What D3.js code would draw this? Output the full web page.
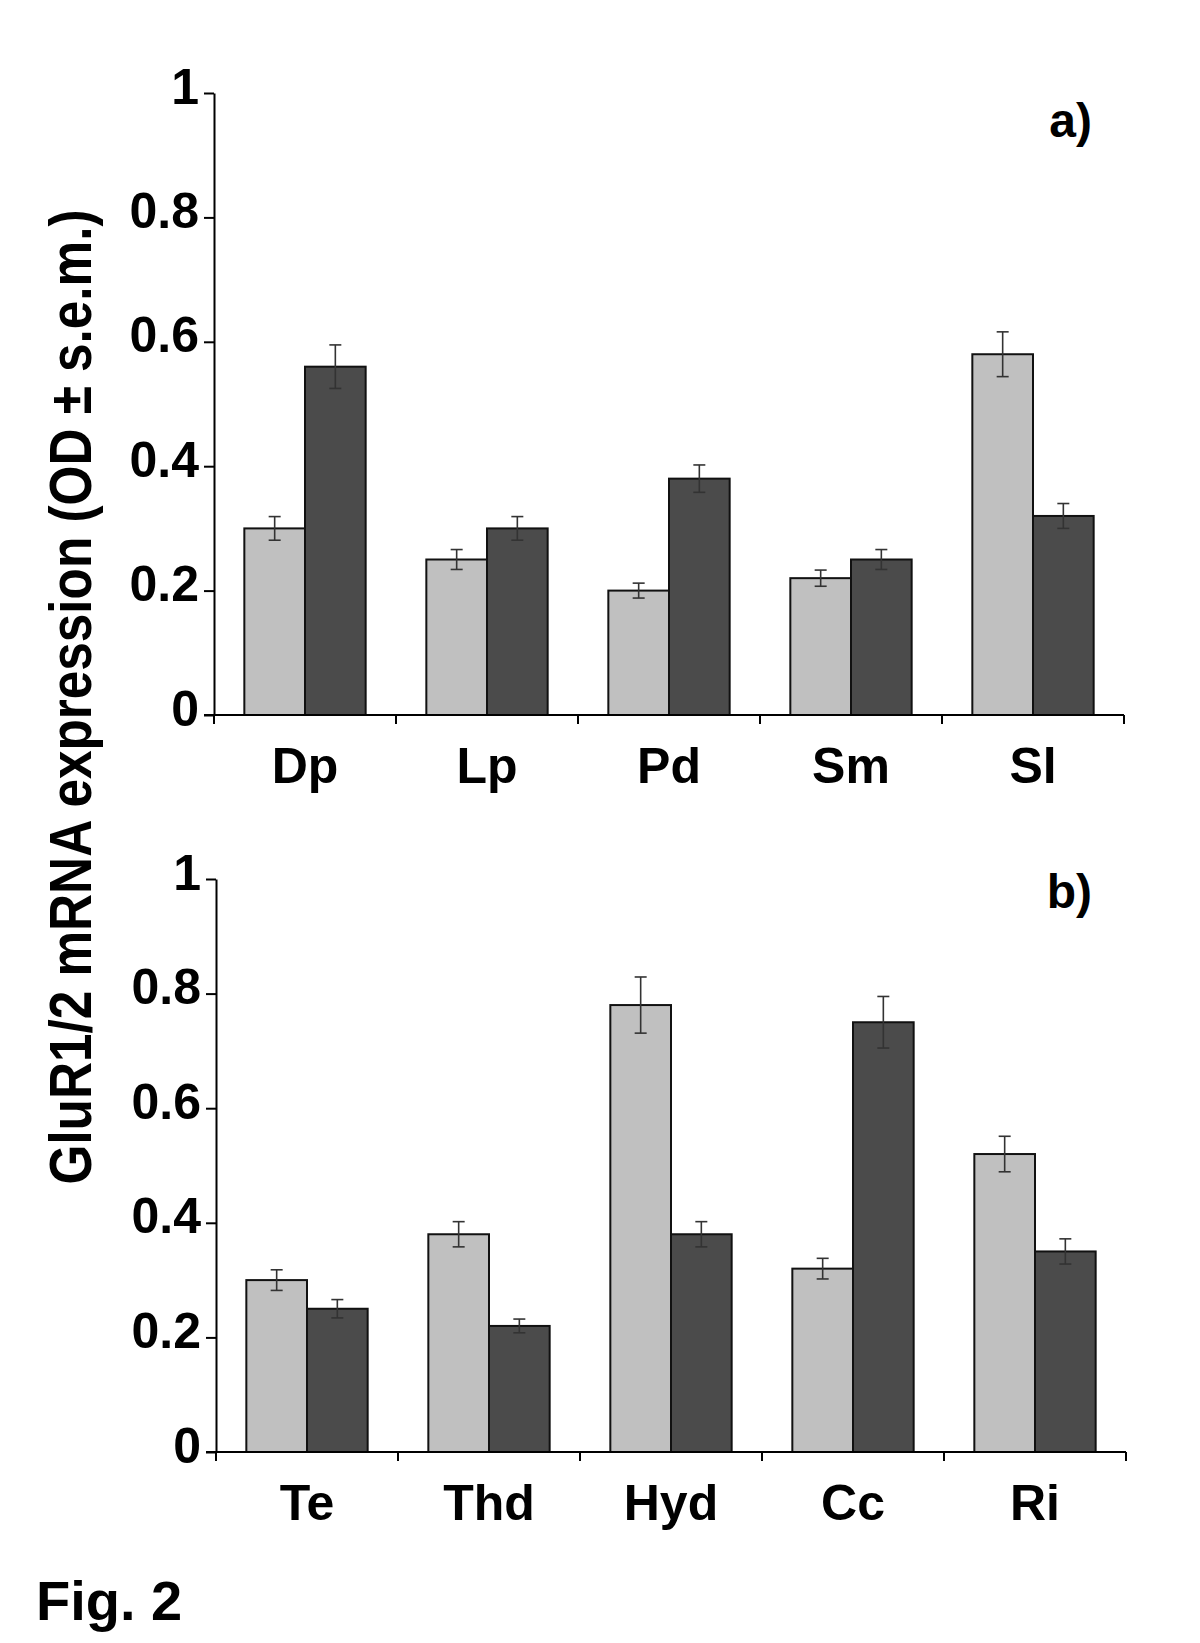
<!DOCTYPE html>
<html>
<head>
<meta charset="utf-8">
<script src="https://cdn.jsdelivr.net/npm/d3@7"></script>
<style>
  html, body { margin: 0; padding: 0; background: #fff; }
  svg { display: block; }
  text { font-family: "Liberation Sans", Arial, sans-serif; font-weight: bold; fill: #000; }
</style>
</head>
<body>
<svg id="chart" width="1200" height="1643"></svg>
<script>
// ---- data ----
const categoriesA = ["Dp", "Lp", "Pd", "Sm", "Sl"];
const lightA = [0.30, 0.25, 0.20, 0.22, 0.58];
const lightErrA = [0.019, 0.016, 0.012, 0.013, 0.036];
const darkA = [0.56, 0.30, 0.38, 0.25, 0.32];
const darkErrA = [0.035, 0.019, 0.022, 0.016, 0.020];

const categoriesB = ["Te", "Thd", "Hyd", "Cc", "Ri"];
const lightB = [0.30, 0.38, 0.78, 0.32, 0.52];
const lightErrB = [0.018, 0.022, 0.049, 0.018, 0.031];
const darkB = [0.25, 0.22, 0.38, 0.75, 0.35];
const darkErrB = [0.016, 0.012, 0.022, 0.045, 0.022];

const yTicks = [0, 0.2, 0.4, 0.6, 0.8, 1];
const yTickLabels = ["0", "0.2", "0.4", "0.6", "0.8", "1"];
const seriesKeys = ["light", "dark"];
const seriesColors = ["#c0c0c0", "#4b4b4b"];
const yLabel = "GluR1/2 mRNA expression (OD \u00B1 s.e.m.)";
const figLabel = "Fig. 2";

const svg = d3.select("#chart");

function panel(cfg) {
  const x = d3.scaleBand().domain(cfg.categories).range([cfg.x0, cfg.x1]).paddingInner(0).paddingOuter(0);
  const xs = d3.scaleBand().domain(seriesKeys).range([x.bandwidth() / 6, x.bandwidth() * 5 / 6]).padding(0);
  const y = d3.scaleLinear().domain([0, 1]).range([cfg.yBottom, cfg.yTop]);
  const color = d3.scaleOrdinal().domain(seriesKeys).range(seriesColors);

  const g = svg.append("g");

  const rows = cfg.categories.map((c, i) => ({
    cat: c,
    vals: [
      { key: "light", v: cfg.light[i], e: cfg.lightErr[i] },
      { key: "dark", v: cfg.dark[i], e: cfg.darkErr[i] }
    ]
  }));

  const grp = g.selectAll("g.grp").data(rows).join("g")
    .attr("class", "grp")
    .attr("transform", d => `translate(${x(d.cat)},0)`);

  grp.selectAll("rect").data(d => d.vals).join("rect")
    .attr("x", d => xs(d.key))
    .attr("y", d => y(d.v))
    .attr("width", xs.bandwidth())
    .attr("height", d => y(0) - y(d.v))
    .attr("fill", d => color(d.key))
    .attr("stroke", "#111")
    .attr("stroke-width", 2);

  // error bars
  const eb = grp.selectAll("g.eb").data(d => d.vals).join("g").attr("class", "eb");
  eb.append("line")
    .attr("x1", d => xs(d.key) + xs.bandwidth() / 2)
    .attr("x2", d => xs(d.key) + xs.bandwidth() / 2)
    .attr("y1", d => y(d.v + d.e))
    .attr("y2", d => y(d.v - d.e))
    .attr("stroke", "#333").attr("stroke-width", 1.6);
  eb.selectAll("line.cap").data(d => [d.v + d.e, d.v - d.e].map(t => ({ t, d }))).join("line")
    .attr("class", "cap")
    .attr("x1", o => xs(o.d.key) + xs.bandwidth() / 2 - 6)
    .attr("x2", o => xs(o.d.key) + xs.bandwidth() / 2 + 6)
    .attr("y1", o => y(o.t))
    .attr("y2", o => y(o.t))
    .attr("stroke", "#333").attr("stroke-width", 1.6);

  // y axis
  const yAxis = d3.axisLeft(y).tickValues(yTicks)
    .tickFormat((d, i) => yTickLabels[i])
    .tickSize(10).tickSizeOuter(0).tickPadding(5);
  const ya = g.append("g").attr("transform", `translate(${cfg.x0},0)`).call(yAxis);
  ya.select(".domain").attr("stroke", "#000").attr("stroke-width", 2);
  ya.selectAll(".tick line").attr("stroke", "#000").attr("stroke-width", 2);
  ya.selectAll(".tick text")
    .attr("font-family", "Liberation Sans, Arial, sans-serif")
    .attr("font-weight", "bold")
    .attr("font-size", 50)
    .attr("fill", "#000")
    .attr("dy", "0.2em");

  // x axis baseline (extends to the left tick length)
  g.append("line")
    .attr("x1", cfg.x0 - 10).attr("x2", cfg.x1)
    .attr("y1", y(0)).attr("y2", y(0))
    .attr("stroke", "#000").attr("stroke-width", 2);
  // boundary ticks
  const bounds = cfg.categories.map(c => x(c)).concat([x.range()[1]]);
  g.selectAll("line.xt").data(bounds).join("line")
    .attr("class", "xt")
    .attr("x1", d => d).attr("x2", d => d)
    .attr("y1", y(0)).attr("y2", y(0) + 9)
    .attr("stroke", "#000").attr("stroke-width", 2);
  // category labels
  const xAxis = d3.axisBottom(x).tickSize(0).tickPadding(0);
  const xa = g.append("g").attr("transform", `translate(0,${y(0)})`).call(xAxis);
  xa.select(".domain").remove();
  xa.selectAll(".tick text")
    .attr("font-family", "Liberation Sans, Arial, sans-serif")
    .attr("font-weight", "bold")
    .attr("font-size", 50)
    .attr("fill", "#000")
    .attr("y", 68).attr("dy", 0);

  // panel letter
  g.append("text")
    .attr("x", 1092).attr("y", cfg.letterY)
    .attr("text-anchor", "end")
    .attr("font-size", 48)
    .text(cfg.letter);
}

panel({ categories: categoriesA, light: lightA, lightErr: lightErrA, dark: darkA, darkErr: darkErrA,
        x0: 214, x1: 1124, yTop: 93, yBottom: 715, letter: "a)", letterY: 137 });
panel({ categories: categoriesB, light: lightB, lightErr: lightErrB, dark: darkB, darkErr: darkErrB,
        x0: 216, x1: 1126, yTop: 879, yBottom: 1452, letter: "b)", letterY: 908 });

// y-axis title
svg.append("text")
  .attr("transform", "translate(91,697) rotate(-90)")
  .attr("text-anchor", "middle")
  .attr("font-size", 60)
  .attr("textLength", 975)
  .attr("lengthAdjust", "spacingAndGlyphs")
  .text(yLabel);

// figure label
svg.append("text")
  .attr("x", 36).attr("y", 1620)
  .attr("font-size", 56)
  .text(figLabel);
</script>
</body>
</html>
